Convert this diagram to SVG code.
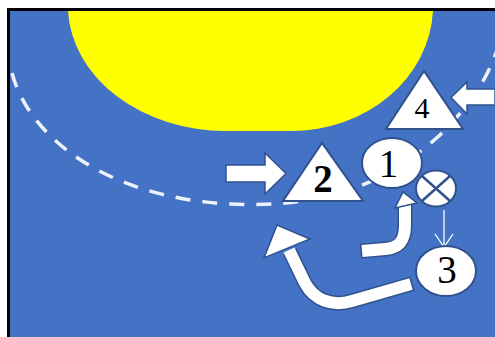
<svg xmlns="http://www.w3.org/2000/svg" width="495" height="337" viewBox="0 0 495 337">
<defs>
<style>
.shape{fill:#FFFFFF;stroke:#2F528F;stroke-width:2}
.blk{fill:#FFFFFF;stroke:#2F528F;stroke-width:1.5;stroke-linejoin:miter}
.num{font-family:"Liberation Serif","DejaVu Serif",serif;fill:#000000;text-anchor:middle}
.out{fill:none;stroke:#2F528F;stroke-width:15;stroke-linecap:butt}
.in{fill:none;stroke:#FFFFFF;stroke-width:12;stroke-linecap:butt}
</style>
</defs>
<rect x="0" y="0" width="495" height="337" fill="#FFFFFF"/>
<rect x="7" y="8" width="488" height="329" fill="#000000"/>
<rect x="10" y="11" width="485" height="326" fill="#4472C4"/>
<path d="M68,11 A158,126 0 0 0 226,131 L291,131 A142,126 0 0 0 433,11 Z" fill="#FFFF00"/>
<path d="M12,73 C30,140 110,198 230,204 C330,209 390,180 440,135 C465,110 485,85 497,50" fill="none" stroke="#EEF2FA" stroke-width="3.5" stroke-dasharray="15,12"/>
<g id="connectors">
<path d="M226,165 H265 V153 L286,173.5 L265,194 V182 H226 Z" class="blk"/>
<path d="M495,89 H467 V82 L451,97.5 L467,114 V105 H495 Z" class="blk"/>
<path d="M360.5,251.1 L385,249 C400,248 405,240 405,225 L405,205" class="out"/>
<path d="M362,251 L385,249 C400,248 405,240 405,225 L405,204" class="in"/>
<path d="M395,208 L403,192 L417,203 Z" class="blk"/>
<path d="M412.4,283.6 L352,301 C332,307 314,300 305,283 L290,252" class="out"/>
<path d="M411,284 L352,301 C332,307 314,300 305,283 L289,250" class="in"/>
<path d="M277,225 L310,239 L264,258 Z" class="blk"/>
<g fill="none" stroke="#FFFFFF" stroke-width="1.3">
<line x1="444" y1="210" x2="444" y2="247"/>
<polyline points="435,234 444,247 453,234"/>
</g>
</g>
<g id="node-2">
<polygon points="322,143 283,201 363,201" class="shape"/>
<text x="323" y="192" class="num" font-size="39" font-weight="bold">2</text>
</g>
<g id="node-4">
<polygon points="424,71 386,129 463,129" class="shape"/>
<text x="422" y="118" class="num" font-size="30">4</text>
</g>
<g id="node-1">
<ellipse cx="392" cy="163" rx="30" ry="25" class="shape"/>
<text x="388.5" y="177" class="num" font-size="39">1</text>
</g>
<g id="node-ball">
<ellipse cx="436" cy="188.5" rx="20" ry="18" class="shape"/>
<line x1="422" y1="176" x2="450" y2="201" stroke="#2F528F" stroke-width="2.5"/>
<line x1="450" y1="176" x2="422" y2="201" stroke="#2F528F" stroke-width="2.5"/>
</g>
<g id="node-3">
<ellipse cx="446" cy="271" rx="30" ry="25" class="shape"/>
<text x="447" y="283" class="num" font-size="39">3</text>
</g>
</svg>
